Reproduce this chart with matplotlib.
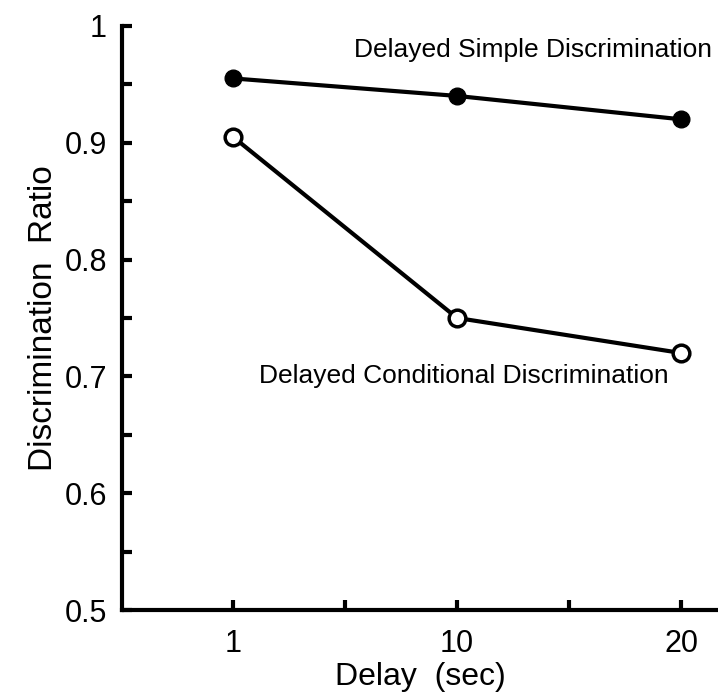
import numpy as np
import matplotlib.pyplot as plt

plt.rcParams['font.family'] = ['Liberation Sans', 'DejaVu Sans']

delays = ['1', '10', '20']
simple = [0.955, 0.940, 0.920]        # Delayed Simple Discrimination (filled)
conditional = [0.905, 0.750, 0.720]   # Delayed Conditional Discrimination (open)

x = np.arange(1, len(delays) + 1)

fig = plt.figure(figsize=(7.18, 6.98), dpi=100)
ax = fig.add_axes([0.170, 0.126, 0.830, 0.837])

ax.plot(x, simple, '-o', color='black', lw=3, ms=12, mfc='black', mec='black', clip_on=False, zorder=3)
ax.plot(x, conditional, '-o', color='black', lw=3, ms=12, mfc='white', mec='black', mew=2.5, clip_on=False, zorder=3)

ax.set_xlim(0.505, 3.165)
ax.set_ylim(0.5, 1.0)
ax.set_xticks(x)
ax.set_xticklabels(delays)
ax.set_xticks([1.5, 2.5], minor=True)
ax.set_yticks([0.5, 0.6, 0.7, 0.8, 0.9, 1.0])
ax.set_yticklabels(['0.5', '0.6', '0.7', '0.8', '0.9', '1'])
ax.set_yticks(np.arange(0.55, 1.0, 0.1), minor=True)

for s in ['top', 'right']:
    ax.spines[s].set_visible(False)
for s in ['left', 'bottom']:
    ax.spines[s].set_linewidth(3)

ax.tick_params(axis='both', which='both', direction='in', width=3, length=7, labelsize=22)
ax.tick_params(axis='y', pad=11)
ax.tick_params(axis='x', pad=14)

ax.text(2.34, 0.979, 'Delayed Simple Discrimination', fontsize=19, ha='center', va='center')
ax.text(2.03, 0.700, 'Delayed Conditional Discrimination', fontsize=19, ha='center', va='center')

ax.set_xlabel('Delay  (sec)', fontsize=23, labelpad=2)
ax.set_ylabel('Discrimination  Ratio', fontsize=24, labelpad=4)

plt.savefig('out.png', dpi=100)
